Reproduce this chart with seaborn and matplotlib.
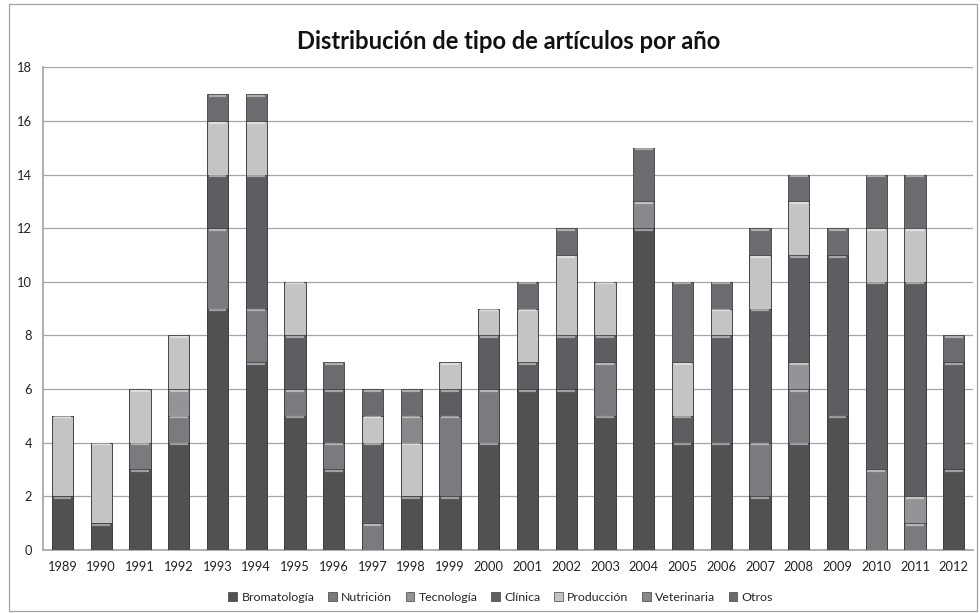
import matplotlib
matplotlib.use("Agg")
import matplotlib.pyplot as plt
import numpy as np
import pandas as pd
import seaborn as sns

years = [str(y) for y in range(1989, 2013)]
bromatologia = [2, 1, 3, 4, 9, 7, 5, 3, 0, 2, 2, 4, 6, 6, 5, 12, 4, 4, 2, 4, 5, 0, 0, 3]
nutricion    = [0, 0, 1, 1, 3, 2, 1, 1, 1, 0, 3, 2, 0, 0, 2, 0, 0, 0, 2, 2, 0, 3, 1, 0]
tecnologia   = [0, 0, 0, 1, 0, 0, 0, 0, 0, 0, 0, 0, 0, 0, 0, 0, 0, 0, 0, 1, 0, 0, 1, 0]
clinica      = [0, 0, 0, 0, 2, 5, 2, 2, 3, 0, 1, 2, 1, 2, 1, 0, 1, 4, 5, 4, 6, 7, 8, 4]
produccion   = [3, 3, 2, 2, 2, 2, 2, 0, 1, 2, 1, 1, 2, 3, 2, 0, 2, 1, 2, 2, 0, 2, 2, 0]
veterinaria  = [0, 0, 0, 0, 0, 0, 0, 0, 0, 1, 0, 0, 0, 0, 0, 1, 0, 0, 0, 0, 0, 0, 0, 0]
otros        = [0, 0, 0, 0, 1, 1, 0, 1, 1, 1, 0, 0, 1, 1, 0, 2, 3, 1, 1, 1, 1, 2, 2, 1]

series = ["Bromatología", "Nutrición", "Tecnología", "Clínica",
          "Producción", "Veterinaria", "Otros"]
values = [bromatologia, nutricion, tecnologia, clinica, produccion, veterinaria, otros]
colors = ["#505153", "#7a7b7e", "#939497", "#5d5e61", "#c3c4c6", "#88898c", "#6b6c6f"]

df = pd.DataFrame({name: v for name, v in zip(series, values)}, index=years)
cum = df.cumsum(axis=1)

sns.set_theme(style="white")
plt.rcParams["font.family"] = ["Lato", "DejaVu Sans"]

fig = plt.figure(figsize=(9.8, 6.13), dpi=100)
ax = fig.add_axes([0.044, 0.103, 0.949, 0.787])

# Stacked bars: draw cumulative totals from the top layer down
for name, col in reversed(list(zip(series, colors))):
    sub = pd.DataFrame({"year": years, "total": cum[name].values})
    sns.barplot(data=sub, x="year", y="total", color=col, width=0.55,
                edgecolor="#3e3f41", linewidth=0.6, saturation=1, ax=ax,
                zorder=3)

# Bevel highlight along the top of each segment
xs = np.arange(len(years))
for name, col in zip(series, colors):
    h = df[name].values
    top = cum[name].values
    for x, hv, tv in zip(xs, h, top):
        if hv > 0:
            ax.plot([x - 0.23, x + 0.23], [tv - 0.06, tv - 0.06],
                    color="white", alpha=0.45, lw=1.6, zorder=4,
                    solid_capstyle="butt")

ax.set_ylim(0, 18)
ax.set_xlim(-0.5, len(years) - 0.5)
ax.set_yticks(range(0, 19, 2))
ax.yaxis.grid(True, color="#a6a6a6", linewidth=0.9, zorder=0)
ax.set_axisbelow(True)
ax.set_xlabel("")
ax.set_ylabel("")
ax.tick_params(axis="both", length=0, labelsize=9.3, colors="#222222")
ax.tick_params(axis="x", pad=8)
ax.tick_params(axis="y", pad=8)
for s in ["top", "right"]:
    ax.spines[s].set_visible(False)
ax.spines["left"].set_color("#a6a6a6")
ax.spines["bottom"].set_color("#a6a6a6")

ax.set_title("Distribución de tipo de artículos por año", fontsize=17.1,
             fontweight="bold", color="#111111", pad=13)

# Legend in series order along the bottom
handles = [matplotlib.patches.Patch(facecolor=c, edgecolor="#3e3f41", linewidth=0.5)
           for c in colors]
fig.legend(handles, series, loc="center", bbox_to_anchor=(0.511, 0.026),
           ncol=7, frameon=False, fontsize=8.9, handlelength=0.7,
           handleheight=0.7, handletextpad=0.35, columnspacing=1.1)

# Outer frame
fig.add_artist(matplotlib.patches.Rectangle((0.009, 0.004), 0.988, 0.99,
               transform=fig.transFigure, fill=False, edgecolor="#a0a0a0", lw=0.9))

fig.savefig("out.png", dpi=100)
